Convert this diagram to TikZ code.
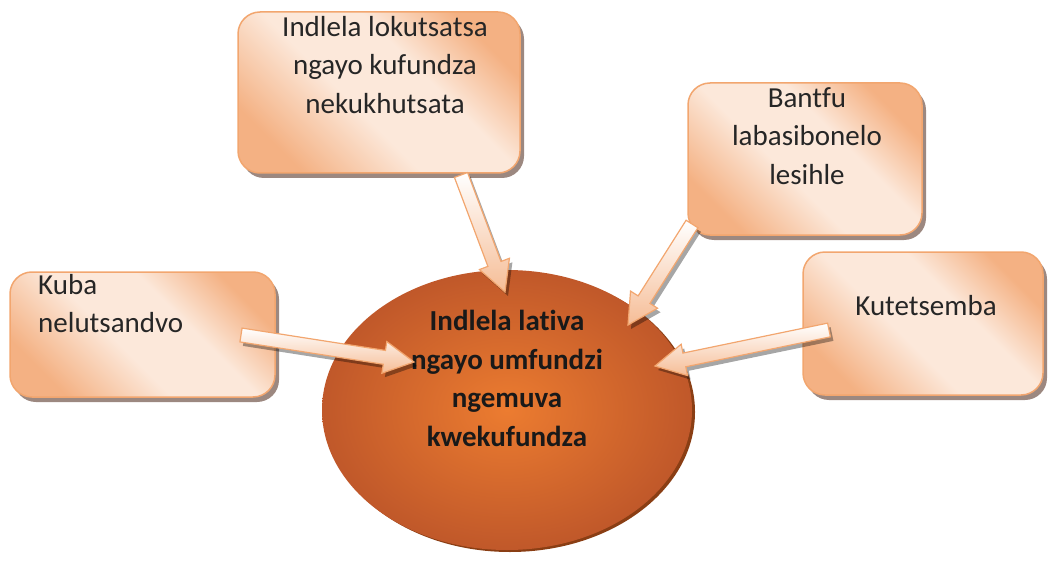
\documentclass[tikz,border=0pt]{standalone}
\usepackage{fontspec}
\setmainfont{Carlito}[Ligatures=NoCommon]
\usetikzlibrary{calc,shadows,shapes.geometric}

\definecolor{peachdk}{HTML}{F4B183}
\definecolor{peachlt}{HTML}{FCE8DA}
\definecolor{peachln}{HTML}{F2A66F}
\definecolor{boxshadow}{HTML}{9C8880}
\definecolor{ballin}{HTML}{EC7C30}
\definecolor{ballout}{HTML}{C0582A}
\definecolor{ballshadow}{HTML}{8A3E14}
\definecolor{inktxt}{HTML}{262626}

\pgfdeclarehorizontalshading{bubbleshade}{100bp}{%
  color(0bp)=(peachdk); color(25bp)=(peachdk); color(44bp)=(peachlt);
  color(60bp)=(peachlt); color(75bp)=(peachdk); color(100bp)=(peachdk)}

\tikzset{
  bubble/.style={rectangle, rounded corners=22pt, draw=peachln, line width=1.5pt,
    shading=bubbleshade, shading angle=45,
    drop shadow={shadow xshift=4pt, shadow yshift=-5pt, fill=boxshadow, opacity=1}},
  ball/.style={ellipse, draw=none, inner color=ballin, outer color=ballout,
    drop shadow={shadow xshift=3pt, shadow yshift=-2pt, fill=ballshadow, opacity=1}},
  bubbletxt/.style={inner sep=0pt, text=inktxt, font=\fontsize{29}{38.5}\selectfont, align=center},
  balltxt/.style={bubbletxt, text=black!90, font=\bfseries\fontsize{29}{38.5}\selectfont},
  arrowbody/.style={draw=peachln, line width=1.2pt, line join=miter,
    top color=white, bottom color=peachdk!85},
  arrowshadow/.style={fill=black, opacity=.35, transform canvas={shift={(3pt,-4pt)}}}
}

% fat block arrow from #1 (tail) to #2 (tip)
\newcommand{\fatarrow}[2]{%
  \coordinate (fa0) at ($(#2)!30pt!(#1)$);
  \coordinate (fa1) at ($(#1)!7pt!90:(#2)$);
  \coordinate (fa2) at ($(fa0)!7pt!-90:(#1)$);
  \coordinate (fa3) at ($(fa0)!16pt!-90:(#1)$);
  \coordinate (fa4) at ($(fa0)!16pt!90:(#1)$);
  \coordinate (fa5) at ($(fa0)!7pt!90:(#1)$);
  \coordinate (fa6) at ($(#1)!7pt!-90:(#2)$);
  \fill[arrowshadow] (fa1) -- (fa2) -- (fa3) -- (#2) -- (fa4) -- (fa5) -- (fa6) -- cycle;
  \draw[arrowbody] (fa1) -- (fa2) -- (fa3) -- (#2) -- (fa4) -- (fa5) -- (fa6) -- cycle;
}

\begin{document}
\begin{tikzpicture}[x=1pt,y=-1pt]

    \useasboundingbox (0,0) rectangle (1048,577);

    % Centre
    \node[ball, minimum width=370pt, minimum height=280pt] (core) at (507,410) {};
    \node[balltxt, anchor=north] (coreTxt) at (507,310)
        {Indlela lativa\\ngayo umfundzi\\ngemuva\\kwekufundza};

    % Boxes
    \node[bubble, minimum width=282pt, minimum height=161pt] (speak) at (379,92.5) {};
    \node[bubbletxt, anchor=north] (speakTxt) at (385,16)
        {Indlela lokutsatsa\\ngayo kufundza\\nekukhutsata};

    \node[bubble, minimum width=234pt, minimum height=152pt] (model) at (805,159) {};
    \node[bubbletxt, anchor=north] (modelTxt) at (807,87)
        {Bantfu\\labasibonelo\\lesihle};

    \node[bubble, minimum width=265pt, minimum height=125pt] (patience) at (142.5,334.5) {};
    \node[bubbletxt, align=left, anchor=north west] (patienceTxt) at (38,274)
        {Kuba\\nelutsandvo};

    \node[bubble, minimum width=240pt, minimum height=143pt] (trust) at (923,323.5) {};
    \node[bubbletxt, anchor=base] (trustTxt) at (926,315) {Kutetsemba};

    % Arrow ends
    \coordinate (speakTail) at (461,175);
    \coordinate (speakTip) at (505,292);
    \coordinate (modelTail) at (692,224);
    \coordinate (modelTip) at (628,325);
    \coordinate (patienceTail) at (241,335);
    \coordinate (patienceTip) at (414,362);
    \coordinate (trustTail) at (829,330);
    \coordinate (trustTip) at (655,366);

    % ---- Arrows ----
    \fatarrow{speakTail}{speakTip}
    \fatarrow{modelTail}{modelTip}
    \fatarrow{patienceTail}{patienceTip}
    \fatarrow{trustTail}{trustTip}

\end{tikzpicture}
\end{document}
